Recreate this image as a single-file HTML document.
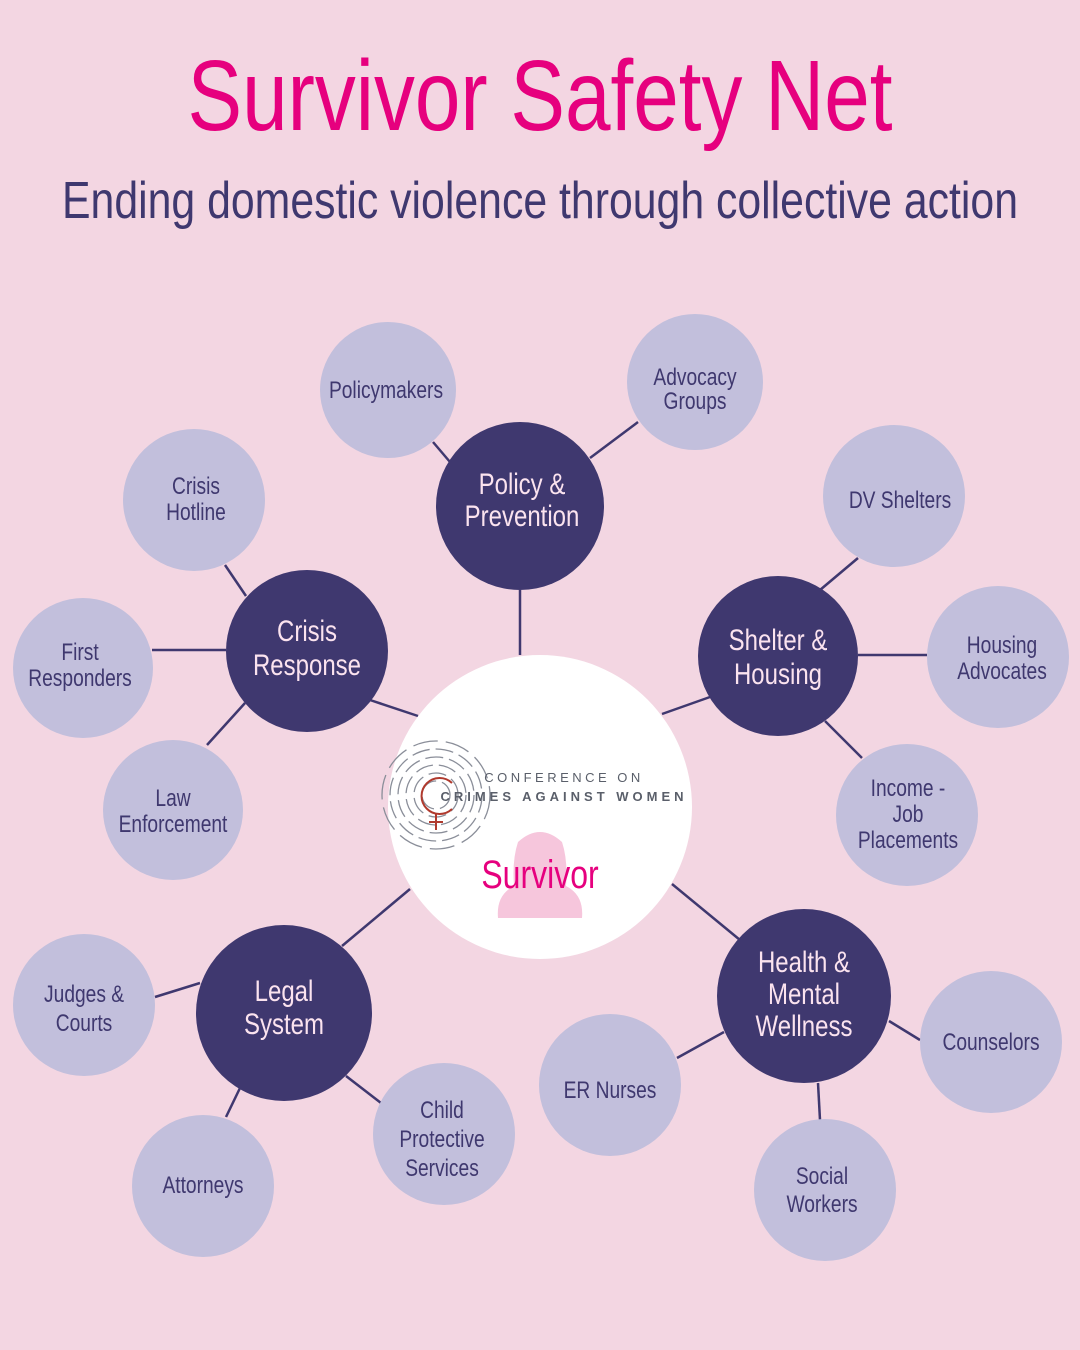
<!DOCTYPE html>
<html><head><meta charset="utf-8"><style>
html,body{margin:0;padding:0;background:#f3d6e2;}
svg{display:block}
text{font-family:"Liberation Sans Narrow","Liberation Sans",sans-serif;text-anchor:middle}
.d,.l,.s{transform-box:fill-box;transform-origin:center;transform:scaleX(0.8)}
.d{fill:#fbe3ef;font-size:30px}
.l{fill:#3f386f;font-size:24px}
</style></head><body>
<svg width="1080" height="1350" viewBox="0 0 1080 1350" xmlns="http://www.w3.org/2000/svg">
<rect width="1080" height="1350" fill="#f3d6e2"/>
<text x="540" y="130" font-size="100" fill="#e6007e" textLength="705" lengthAdjust="spacingAndGlyphs">Survivor Safety Net</text>
<text x="540" y="218" font-size="52" fill="#3f386f" textLength="956" lengthAdjust="spacingAndGlyphs">Ending domestic violence through collective action</text>
<g stroke="#3f386f" stroke-width="2.5">
<line x1="520" y1="590" x2="520" y2="655"/><line x1="433" y1="442" x2="450" y2="462"/><line x1="590" y1="458" x2="638" y2="422"/>
<line x1="225" y1="565" x2="246" y2="596"/><line x1="152" y1="650" x2="226" y2="650"/><line x1="207" y1="745" x2="245" y2="703"/><line x1="370" y1="700" x2="418" y2="716"/>
<line x1="820" y1="590" x2="858" y2="558"/><line x1="858" y1="655" x2="927" y2="655"/><line x1="825" y1="721" x2="862" y2="758"/><line x1="662" y1="714" x2="710" y2="697"/>
<line x1="155" y1="997" x2="200" y2="983"/><line x1="226" y1="1117" x2="240" y2="1088"/><line x1="346" y1="1076" x2="381" y2="1103"/><line x1="342" y1="946" x2="410" y2="889"/>
<line x1="677" y1="1058" x2="724" y2="1032"/><line x1="889" y1="1021" x2="920" y2="1040"/><line x1="818" y1="1083" x2="820" y2="1120"/><line x1="672" y1="884" x2="740" y2="940"/>
</g>
<g fill="#c2bfdc">
<circle cx="388" cy="390" r="68"/><circle cx="695" cy="382" r="68"/>
<circle cx="194" cy="500" r="71"/><circle cx="83" cy="668" r="70"/><circle cx="173" cy="810" r="70"/>
<circle cx="894" cy="496" r="71"/><circle cx="998" cy="657" r="71"/><circle cx="907" cy="815" r="71"/>
<circle cx="84" cy="1005" r="71"/><circle cx="203" cy="1186" r="71"/><circle cx="444" cy="1134" r="71"/>
<circle cx="610" cy="1085" r="71"/><circle cx="991" cy="1042" r="71"/><circle cx="825" cy="1190" r="71"/>
</g>
<g fill="#3f386f">
<circle cx="520" cy="506" r="84"/><circle cx="307" cy="651" r="81"/><circle cx="778" cy="656" r="80"/>
<circle cx="284" cy="1013" r="88"/><circle cx="804" cy="996" r="87"/>
</g>
<circle cx="540" cy="807" r="152" fill="#fff"/>
<!-- logo -->
<g fill="none" stroke="#8a8e99" stroke-width="1.3" stroke-dasharray="18 6">
<circle cx="436" cy="795" r="14"/><circle cx="436" cy="795" r="22"/><circle cx="436" cy="795" r="30"/><circle cx="436" cy="795" r="38"/><circle cx="436" cy="795" r="46"/><circle cx="436" cy="795" r="54" stroke-dasharray="25 8"/>
</g>
<path d="M452 783 A18 18 0 1 0 452 809" fill="none" stroke="#b03a2e" stroke-width="2"/>
<line x1="436" y1="813" x2="436" y2="830" stroke="#b03a2e" stroke-width="2"/><line x1="429" y1="822" x2="443" y2="822" stroke="#b03a2e" stroke-width="2"/>
<path d="M498 918 Q496 895 514 886 Q512 860 518 842 Q540 822 562 842 Q568 860 566 886 Q584 895 582 918 Z" fill="#f6c6dc"/>
<text x="564" y="782" font-size="13" fill="#5a5f6a" letter-spacing="3.5" style="font-family:'Liberation Sans',sans-serif">CONFERENCE ON</text>
<text x="564" y="801" font-size="13" fill="#5a5f6a" letter-spacing="4" font-weight="bold" style="font-family:'Liberation Sans',sans-serif">CRIMES AGAINST WOMEN</text>
<text class="s" x="540" y="888" font-size="40" fill="#e6007e">Survivor</text>
<!-- dark labels -->
<text class="d" x="522" y="494">Policy &amp;</text><text class="d" x="522" y="526">Prevention</text>
<text class="d" x="307" y="641">Crisis</text><text class="d" x="307" y="675">Response</text>
<text class="d" x="778" y="650">Shelter &amp;</text><text class="d" x="778" y="684">Housing</text>
<text class="d" x="284" y="1001">Legal</text><text class="d" x="284" y="1034">System</text>
<text class="d" x="804" y="972">Health &amp;</text><text class="d" x="804" y="1004">Mental</text><text class="d" x="804" y="1036">Wellness</text>
<!-- light labels -->
<text class="l" x="386" y="398">Policymakers</text>
<text class="l" x="695" y="385">Advocacy</text><text class="l" x="695" y="409">Groups</text>
<text class="l" x="196" y="494">Crisis</text><text class="l" x="196" y="520">Hotline</text>
<text class="l" x="80" y="660">First</text><text class="l" x="80" y="686">Responders</text>
<text class="l" x="173" y="806">Law</text><text class="l" x="173" y="832">Enforcement</text>
<text class="l" x="900" y="508">DV Shelters</text>
<text class="l" x="1002" y="653">Housing</text><text class="l" x="1002" y="679">Advocates</text>
<text class="l" x="908" y="796">Income -</text><text class="l" x="908" y="822">Job</text><text class="l" x="908" y="848">Placements</text>
<text class="l" x="84" y="1002" font-size="26">Judges &amp;</text><text class="l" x="84" y="1031" font-size="26">Courts</text>
<text class="l" x="203" y="1193" font-size="26">Attorneys</text>
<text class="l" x="442" y="1118" font-size="26">Child</text><text class="l" x="442" y="1147" font-size="26">Protective</text><text class="l" x="442" y="1176" font-size="26">Services</text>
<text class="l" x="610" y="1098" font-size="26">ER Nurses</text>
<text class="l" x="991" y="1050" font-size="26">Counselors</text>
<text class="l" x="822" y="1184" font-size="26">Social</text><text class="l" x="822" y="1212" font-size="26">Workers</text>
</svg>
</body></html>
